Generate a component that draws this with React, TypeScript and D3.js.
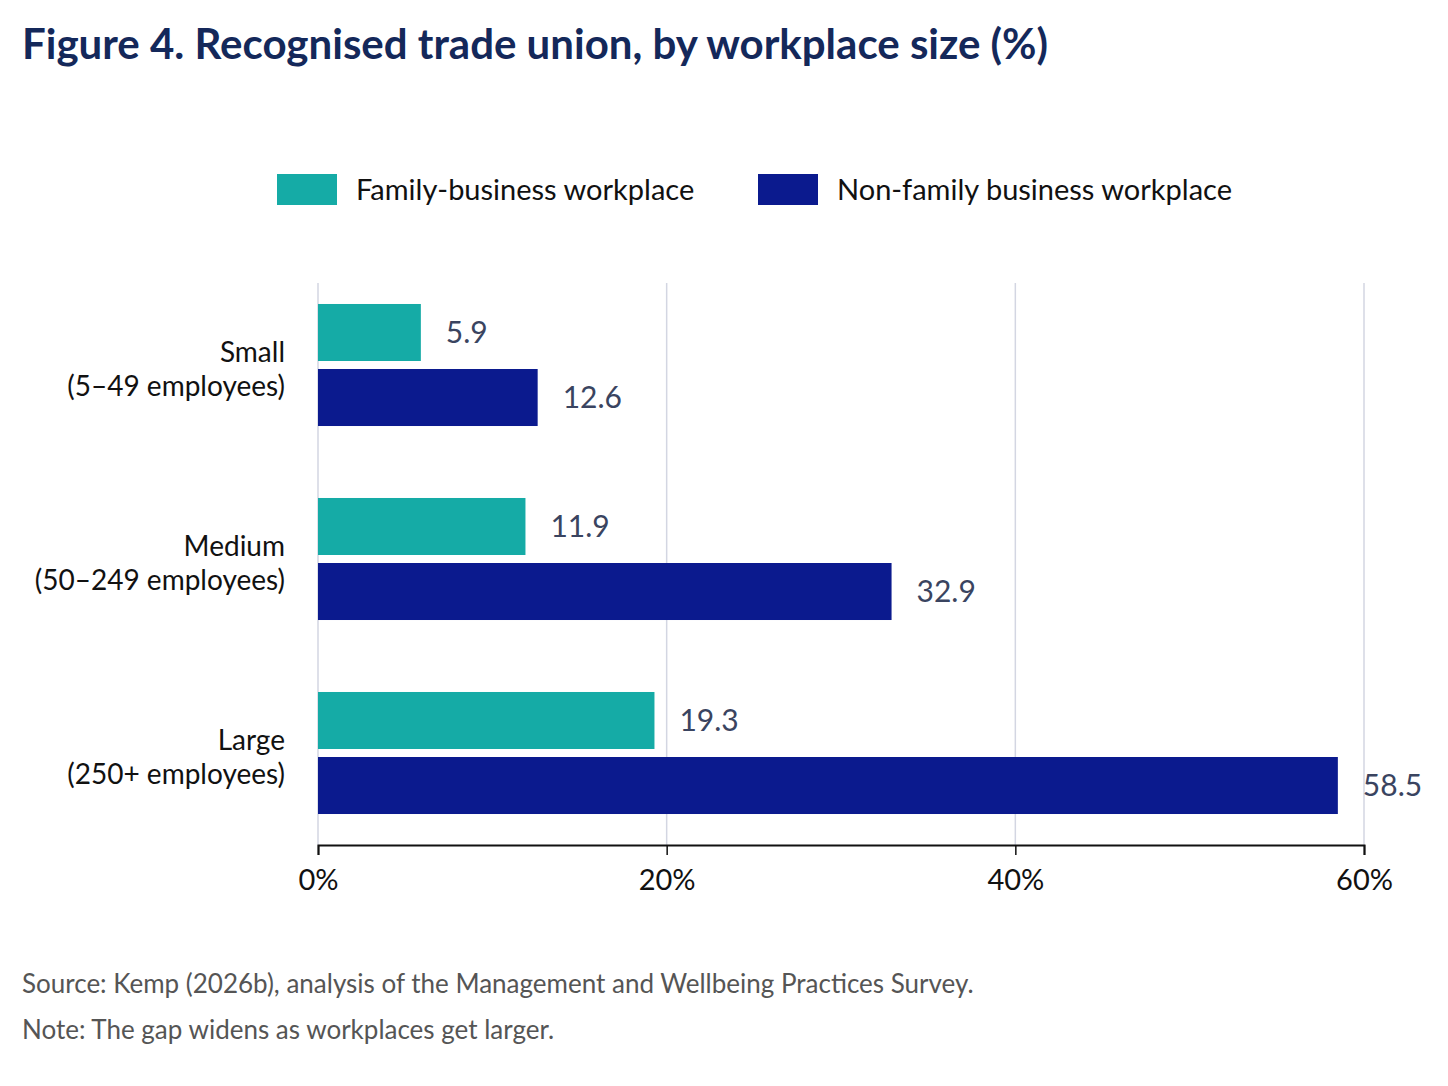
import { useRef, useEffect } from "react";
import * as d3 from "d3";

// chart data
const categories = ["Small", "Medium", "Large"];
const categorySubs = ["(5–49 employees)", "(50–249 employees)", "(250+ employees)"];
const seriesNames = ["Family-business workplace", "Non-family business workplace"];
const familyValues = [5.9, 11.9, 19.3];
const nonFamilyValues = [12.6, 32.9, 58.5];
const xTicks = [0, 20, 40, 60];

const colors = ["#15aba6", "#0b1a8e"];

const App = () => {
  const svgRef = useRef<SVGSVGElement | null>(null);

  useEffect(() => {
    const width = 1448;
    const height = 1086;
    const svg = d3.select(svgRef.current);
    svg.selectAll("*").remove();

    const font = "Lato, 'Noto Sans', sans-serif";

    // title
    svg.append("text")
      .attr("x", 22)
      .attr("y", 59)
      .attr("font-family", font)
      .attr("font-weight", 700)
      .attr("font-size", 42)
      .attr("fill", "#14285a")
      .text("Figure 4. Recognised trade union, by workplace size (%)");

    // legend
    const legendX = [277, 758];
    seriesNames.forEach((name, i) => {
      const g = svg.append("g").attr("transform", `translate(${legendX[i]},174)`);
      g.append("rect").attr("width", 60).attr("height", 31).attr("fill", colors[i]);
      g.append("text")
        .attr("x", 79)
        .attr("y", 26)
        .attr("font-family", font)
        .attr("font-size", 29)
        .attr("fill", "#111")
        .text(name);
    });

    // scales
    const x = d3.scaleLinear().domain([0, 60]).range([318, 1364]);
    const y = d3.scaleBand<string>()
      .domain(categories)
      .range([268, 850])
      .paddingInner(0.371)
      .paddingOuter(0.1855);
    const inner = d3.scaleBand<number>()
      .domain([0, 1])
      .range([0, y.bandwidth()])
      .paddingInner(0.123);

    const plotTop = 283;
    const axisY = 845;

    // gridlines
    svg.append("g")
      .selectAll("line")
      .data(xTicks)
      .join("line")
      .attr("x1", d => x(d))
      .attr("x2", d => x(d))
      .attr("y1", plotTop)
      .attr("y2", axisY)
      .attr("stroke", "#d3d6e2")
      .attr("stroke-width", 1.5);

    // bars
    const rows = categories.map((c, i) => ({ c, vals: [familyValues[i], nonFamilyValues[i]] }));
    const groups = svg.append("g")
      .selectAll("g")
      .data(rows)
      .join("g")
      .attr("transform", d => `translate(0,${y(d.c)})`);

    groups.selectAll("rect")
      .data(d => d.vals)
      .join("rect")
      .attr("x", x(0))
      .attr("y", (_, j) => inner(j) as number)
      .attr("width", d => x(d) - x(0))
      .attr("height", inner.bandwidth())
      .attr("fill", (_, j) => colors[j]);

    groups.selectAll("text.val")
      .data(d => d.vals)
      .join("text")
      .attr("class", "val")
      .attr("x", d => x(d) + 25)
      .attr("y", (_, j) => (inner(j) as number) + inner.bandwidth() / 2)
      .attr("dy", "0.35em")
      .attr("font-family", font)
      .attr("font-size", 30)
      .attr("fill", "#3a4460")
      .text(d => d.toFixed(1));

    // category labels
    const labels = svg.append("g")
      .selectAll("text")
      .data(categories)
      .join("text")
      .attr("text-anchor", "end")
      .attr("font-family", font)
      .attr("font-size", 28)
      .attr("fill", "#111")
      .attr("x", 285)
      .attr("y", d => (y(d) as number) + y.bandwidth() / 2);
    labels.append("tspan").attr("x", 285).attr("dy", "-0.12em").text(d => d);
    labels.append("tspan").attr("x", 285).attr("dy", "1.22em").text((_, i) => categorySubs[i]);

    // x axis
    const axis = svg.append("g")
      .attr("transform", `translate(0,${axisY})`)
      .call(d3.axisBottom(x).tickValues(xTicks).tickFormat(d => `${d}%`).tickSize(10).tickPadding(14));
    axis.select(".domain").attr("stroke", "#111").attr("stroke-width", 2);
    axis.selectAll(".tick line").attr("stroke", "#111").attr("stroke-width", 1.5);
    axis.selectAll(".tick text")
      .attr("font-family", font)
      .attr("font-size", 29)
      .attr("fill", "#111");

    // footnotes
    const notes = [
      "Source: Kemp (2026b), analysis of the Management and Wellbeing Practices Survey.",
      "Note: The gap widens as workplaces get larger.",
    ];
    svg.append("g")
      .selectAll("text")
      .data(notes)
      .join("text")
      .attr("x", 22)
      .attr("y", (_, i) => 993 + i * 46)
      .attr("font-family", font)
      .attr("font-size", 26)
      .attr("fill", "#555")
      .text(d => d);

    svg.attr("width", width).attr("height", height);
  }, []);

  return (
    <svg
      ref={svgRef}
      style={{ position: "absolute", left: 0, top: 0, background: "#fff" }}
    />
  );
};

export default App;
